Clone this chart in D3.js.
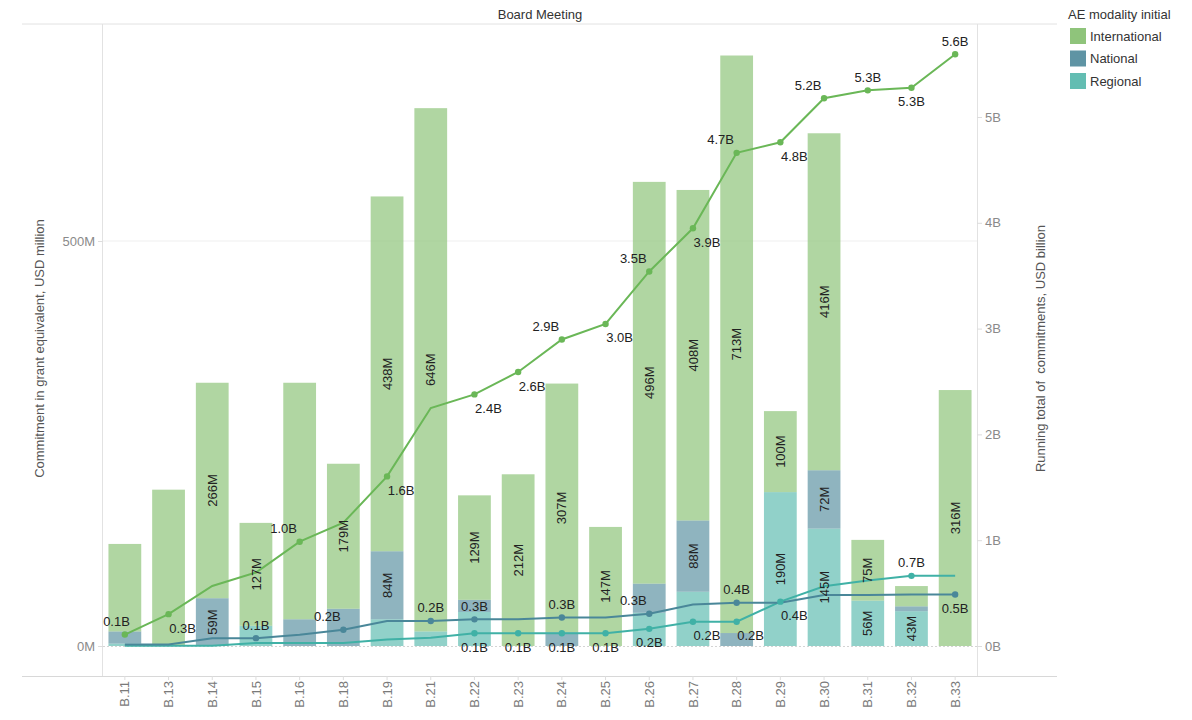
<!DOCTYPE html>
<html>
<head>
<meta charset="utf-8">
<script src="https://cdn.jsdelivr.net/npm/d3@7"></script>
<style>
  html, body { margin: 0; padding: 0; background: #fff; }
  svg { display: block; font-family: "Liberation Sans", Arial, sans-serif; }
</style>
</head>
<body>
<svg id="chart" width="1192" height="720"></svg>
<script>
// ---------------- DATA ----------------
const categories = ["B.11","B.13","B.14","B.15","B.16","B.18","B.19","B.21","B.22","B.23",
                    "B.24","B.25","B.26","B.27","B.28","B.29","B.30","B.31","B.32","B.33"];
// commitments per board meeting, USD million
const international = [108, 193, 266, 127, 292, 179, 438, 646, 129, 212, 307, 147, 496, 408, 713, 100, 416, 75, 25, 316];
const national      = [ 15,   0,  59,   0,  33,  46,  84,   0,  15,   0,  17,   0,  36,  88,  16,   0,  72,  0,  6,   0];
const regional      = [  3,   0,   0,  25,   0,   0,  33,  18,  42,   0,   0,   0,  41,  67,   0, 190, 145, 56, 43,   0];
const seriesNames = ["International", "National", "Regional"];
const leftTicks = [0, 500];
const leftTickLabels = ["0M", "500M"];
const rightTicks = [0, 1, 2, 3, 4, 5];
const rightTickLabels = ["0B", "1B", "2B", "3B", "4B", "5B"];
// which bar segments carry a value label (1 = shown)
const intBarLabel = [0,0,1,1,0,1,1,1,1,1,1,1,1,1,1,1,1,1,0,1];
const natBarLabel = [0,0,1,0,0,0,1,0,0,0,0,0,0,1,0,0,1,0,0,0];
const regBarLabel = [0,0,0,0,0,0,0,0,0,0,0,0,0,0,0,1,1,1,1,0];
// running-total label placement (a=above, al=above-left, b=below, br=below-right, ''=none)
const intLinePos = ['al','br','','','al','','br','','br','br','al','br','al','br','al','br','al','a','b','a'];
const natLinePos = ['','','','a','','al','','a','a','','a','','al','','a','','','','','b'];
const regLinePos = ['','','','','','','','','b','b','b','b','b','br','br','br','','','a',''];

// ---------------- STYLE ----------------
const colors = { International: "#8fc47b", National: "#5f94a4", Regional: "#63bdb2" };
const lineColors = { International: "#6ab757", National: "#4a8799", Regional: "#40b1a6" };
const barOpacity = 0.7;

const svg = d3.select("#chart");
const plot = { left: 103, right: 977, top: 24, bottom: 676 };

const x = d3.scaleBand().domain(categories).range([plot.left, plot.right]).paddingInner(0.25).paddingOuter(0.125);
const yL = d3.scaleLinear().domain([0, 500]).range([646, 241]);
const yR = d3.scaleLinear().domain([0, 5]).range([646, 117]);

// frame lines
svg.append("line").attr("x1", 22).attr("x2", 1057).attr("y1", plot.top).attr("y2", plot.top)
  .attr("stroke", "#e2e2e2");
svg.append("line").attr("x1", 22).attr("x2", 1057).attr("y1", plot.bottom + 0.5).attr("y2", plot.bottom + 0.5)
  .attr("stroke", "#d8d8d8");
svg.append("line").attr("x1", plot.left - 0.5).attr("x2", plot.left - 0.5).attr("y1", plot.top).attr("y2", plot.bottom)
  .attr("stroke", "#e2e2e2");
svg.append("line").attr("x1", plot.right + 0.5).attr("x2", plot.right + 0.5).attr("y1", plot.top).attr("y2", plot.bottom)
  .attr("stroke", "#e2e2e2");

// gridline & zero line
svg.append("line").attr("x1", plot.left).attr("x2", plot.right).attr("y1", yL(500)).attr("y2", yL(500))
  .attr("stroke", "#efefef");
svg.append("line").attr("x1", plot.left).attr("x2", plot.right).attr("y1", yL(0) + 0.5).attr("y2", yL(0) + 0.5)
  .attr("stroke", "#d4d4d4").attr("stroke-dasharray", "2,2");

// title
svg.append("text").attr("x", (plot.left + plot.right) / 2).attr("y", 19).attr("text-anchor", "middle")
  .attr("font-size", 13).attr("fill", "#333").text("Board Meeting");

// axes
const leftAxis = d3.axisLeft(yL).tickValues(leftTicks).tickFormat((d, i) => leftTickLabels[i]).tickSize(5).tickPadding(3);
const gl = svg.append("g").attr("transform", `translate(${plot.left},0)`).call(leftAxis);
gl.select(".domain").remove();
gl.selectAll(".tick line").attr("stroke", "#ddd");
gl.selectAll(".tick text").attr("font-size", 13).attr("fill", "#8a8a8a").attr("font-family", "Liberation Sans, Arial");

const rightAxis = d3.axisRight(yR).tickValues(rightTicks).tickFormat((d, i) => rightTickLabels[i]).tickSize(5).tickPadding(3);
const gr = svg.append("g").attr("transform", `translate(${plot.right},0)`).call(rightAxis);
gr.select(".domain").remove();
gr.selectAll(".tick line").attr("stroke", "#ddd");
gr.selectAll(".tick text").attr("font-size", 13).attr("fill", "#8a8a8a").attr("font-family", "Liberation Sans, Arial");

const bottomAxis = d3.axisBottom(x).tickSize(4).tickPadding(4);
const gb = svg.append("g").attr("transform", `translate(0,${plot.bottom})`).call(bottomAxis);
gb.select(".domain").remove();
gb.selectAll(".tick line").attr("stroke", "#ddd");
gb.selectAll(".tick text").attr("font-size", 13).attr("fill", "#7a7a7a").attr("font-family", "Liberation Sans, Arial")
  .attr("transform", "rotate(-90)").attr("text-anchor", "end").attr("x", -5).attr("y", 0).attr("dy", "0.35em");

// axis titles
svg.append("text").attr("transform", `translate(44,${(241 + 456) / 2}) rotate(-90)`)
  .attr("text-anchor", "middle").attr("font-size", 13).attr("fill", "#555")
  .text("Commitment in grant equivalent, USD million");
svg.append("text").attr("transform", `translate(1045,${(241 + 456) / 2}) rotate(-90)`)
  .attr("text-anchor", "middle").attr("font-size", 13).attr("fill", "#555")
  .style("white-space", "pre")
  .text("Running total of  commitments, USD billion");

// stacked bars
const table = categories.map((c, i) => ({ cat: c, Regional: regional[i], National: national[i], International: international[i] }));
const stack = d3.stack().keys(["Regional", "National", "International"]);
const stacked = stack(table);
const barLabelFlags = { International: intBarLabel, National: natBarLabel, Regional: regBarLabel };

const barG = svg.append("g");
stacked.forEach(layer => {
  barG.selectAll(null).data(layer).enter().append("rect")
    .attr("x", d => x(d.data.cat))
    .attr("width", x.bandwidth())
    .attr("y", d => yL(d[1]))
    .attr("height", d => Math.max(0, yL(d[0]) - yL(d[1])))
    .attr("fill", colors[layer.key])
    .attr("fill-opacity", barOpacity);
});

// lines: running totals (USD billion)
const cum = arr => { let s = 0; return arr.map(v => (s += v) / 1000); };
const running = { International: cum(international), National: cum(national), Regional: cum(regional) };
const lineGen = d3.line().x((d, i) => x(categories[i]) + x.bandwidth() / 2).y(d => yR(d));
const posSets = { International: intLinePos, National: natLinePos, Regional: regLinePos };
const drawOrder = ["Regional", "National", "International"];
drawOrder.forEach(k => {
  svg.append("path").datum(running[k]).attr("d", lineGen)
    .attr("fill", "none").attr("stroke", lineColors[k]).attr("stroke-width", 2);
});
drawOrder.forEach(k => {
  running[k].forEach((v, i) => {
    if (!posSets[k][i]) return;
    svg.append("circle").attr("cx", x(categories[i]) + x.bandwidth() / 2).attr("cy", yR(v))
      .attr("r", 3.2).attr("fill", lineColors[k]);
  });
});

// bar segment labels
const fmtM = d => Math.round(d) + "M";
stacked.forEach(layer => {
  layer.forEach((d, i) => {
    if (!barLabelFlags[layer.key][i]) return;
    const cx = x(d.data.cat) + x.bandwidth() / 2;
    const cy = (yL(d[0]) + yL(d[1])) / 2;
    svg.append("text").attr("transform", `translate(${cx},${cy}) rotate(-90)`)
      .attr("text-anchor", "middle").attr("dy", "0.35em")
      .attr("font-size", 13).attr("fill", "#222")
      .text(fmtM(d[1] - d[0]));
  });
});

// running-total labels
const fmtB = d => d3.format(".1f")(d) + "B";
const offsets = { a: [0, -13], al: [-16, -13], b: [0, 14], br: [14, 14] };
drawOrder.forEach(k => {
  running[k].forEach((v, i) => {
    const p = posSets[k][i];
    if (!p) return;
    const t = fmtB(v);
    const w = 27;
    let cx = x(categories[i]) + x.bandwidth() / 2 + offsets[p][0];
    cx = Math.max(plot.left + w / 2, Math.min(plot.right - w / 2, cx));
    const cy = yR(v) + offsets[p][1];
    svg.append("text").attr("x", cx).attr("y", cy).attr("dy", "0.35em")
      .attr("text-anchor", "middle").attr("font-size", 13).attr("fill", "#222").text(t);
  });
});

// legend
const lg = svg.append("g").attr("transform", "translate(1068,0)");
lg.append("text").attr("x", 0).attr("y", 19).attr("font-size", 13).attr("fill", "#333").text("AE modality initial");
seriesNames.forEach((s, i) => {
  lg.append("rect").attr("x", 2).attr("y", 28 + i * 22.5).attr("width", 16).attr("height", 16).attr("fill", colors[s]);
  lg.append("text").attr("x", 22).attr("y", 36 + i * 22.5).attr("dy", "0.35em")
    .attr("font-size", 13).attr("fill", "#333").text(s);
});
</script>
</body>
</html>
